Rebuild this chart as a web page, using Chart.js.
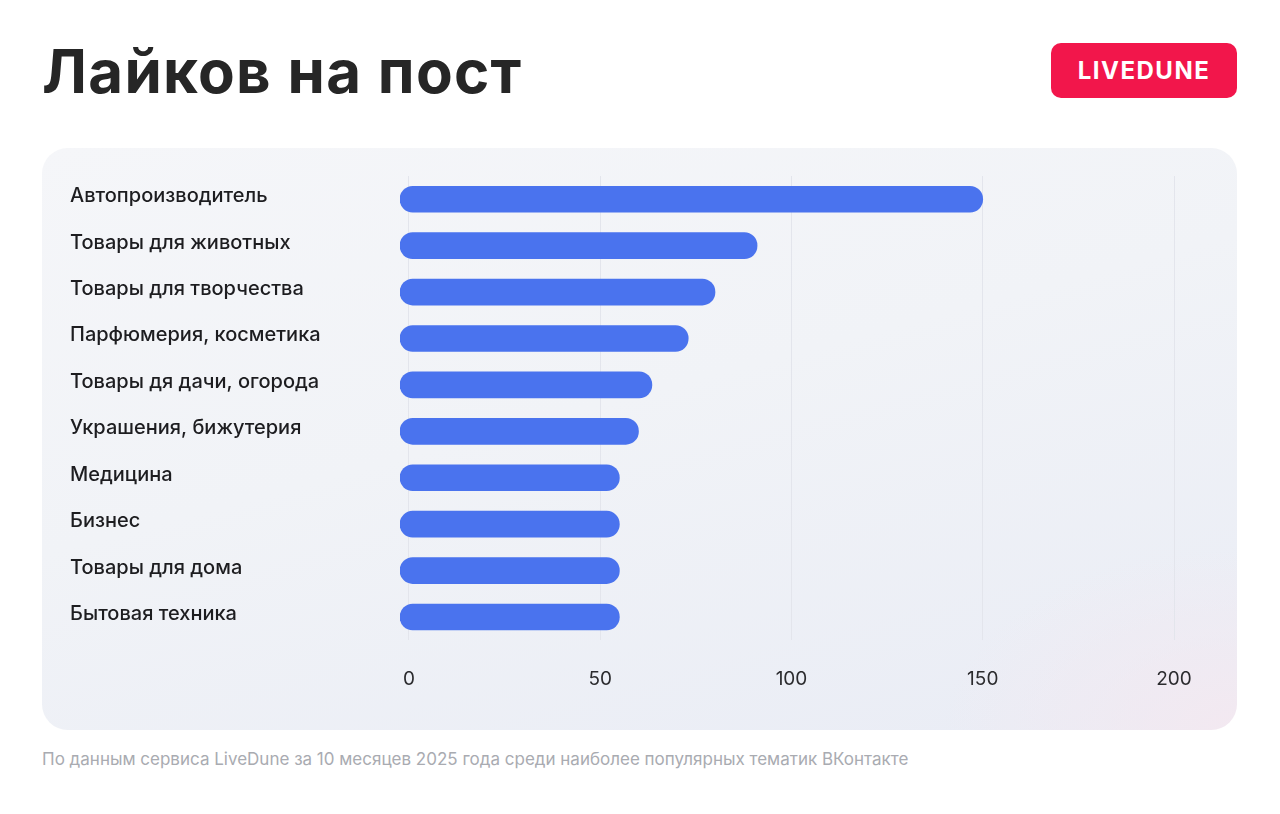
<!DOCTYPE html>
<html lang="ru">
<head>
<meta charset="utf-8">
<script src="https://cdn.jsdelivr.net/npm/chart.js@4.4.0/dist/chart.umd.min.js"></script>
<style>
  html, body { margin: 0; padding: 0; background: #fff; }
  body { width: 1280px; height: 814px; position: relative; overflow: hidden; }
  .title {
    position: absolute; left: 42px; top: 41px;
    font: 700 60px Inter, sans-serif;
    letter-spacing: 1.3px; line-height: 1; color: #262626;
  }
  .logo {
    position: absolute; left: 1051px; top: 43px; width: 186px; height: 55px;
    background: #f2164b; border-radius: 10px;
    color: #fff; font: 700 24px Inter, sans-serif; letter-spacing: 1.5px;
    display: flex; align-items: center; justify-content: center;
  }
  .card {
    position: absolute; left: 42px; top: 148px; width: 1195px; height: 582px;
    border-radius: 26px; overflow: hidden;
    background:
      radial-gradient(ellipse 420px 260px at 100% 100%, rgba(244, 232, 240, 0.9), rgba(244, 232, 240, 0) 70%),
      linear-gradient(165deg, #f5f6f9 0%, #f1f3f7 45%, #e9ecf5 100%);
  }
  .card canvas { position: absolute; left: 0; top: 0; }
  .note {
    position: absolute; left: 42px; top: 750px;
    font: 400 17px Inter, sans-serif; color: #a9abb1; line-height: 1.1;
  }
</style>
</head>
<body>
<div class="title">Лайков на пост</div>
<div class="logo">LIVEDUNE</div>
<div class="card"><canvas id="chart" width="1195" height="582"></canvas></div>
<div class="note">По данным сервиса LiveDune за 10 месяцев 2025 года среди наиболее популярных тематик ВКонтакте</div>

<script>
const categories = [
  'Автопроизводитель',
  'Товары для животных',
  'Товары для творчества',
  'Парфюмерия, косметика',
  'Товары дя дачи, огорода',
  'Украшения, бижутерия',
  'Медицина',
  'Бизнес',
  'Товары для дома',
  'Бытовая техника',
];
const likes = [150, 91, 80, 73, 63.5, 60, 55, 55, 55, 55];
const xTicks = [0, 50, 100, 150, 200];

const barColor = '#4a73ee';
// bars start a little left of the zero line, like the rounded caps in the design
const axisMin = -2.35;

new Chart(document.getElementById('chart'), {
  type: 'bar',
  data: {
    labels: categories,
    datasets: [{
      data: likes,
      base: axisMin,
      backgroundColor: barColor,
      borderRadius: 13,
      borderSkipped: false,
      barThickness: 26,
    }],
  },
  options: {
    indexAxis: 'y',
    responsive: false,
    animation: false,
    devicePixelRatio: 1,
    layout: { padding: { left: 28, right: 63, top: 28, bottom: 11 } },
    plugins: { legend: { display: false }, tooltip: { enabled: false } },
    scales: {
      x: {
        min: axisMin,
        max: 200,
        afterBuildTicks: (scale) => { scale.ticks = xTicks.map(v => ({ value: v })); },
        grid: { color: '#e3e5ec', lineWidth: 1, drawTicks: false },
        border: { display: false },
        ticks: { padding: 28, color: '#2b2b2e', font: { family: 'Inter', size: 19 } },
      },
      y: {
        afterFit: (scale) => { scale.width = 330; },
        grid: { display: false },
        border: { display: false },
        ticks: {
          crossAlign: 'far',
          labelOffset: -3,
          color: '#1d1d20',
          font: { family: 'Inter', size: 20, weight: 500 },
        },
      },
    },
  },
});
</script>
</body>
</html>
